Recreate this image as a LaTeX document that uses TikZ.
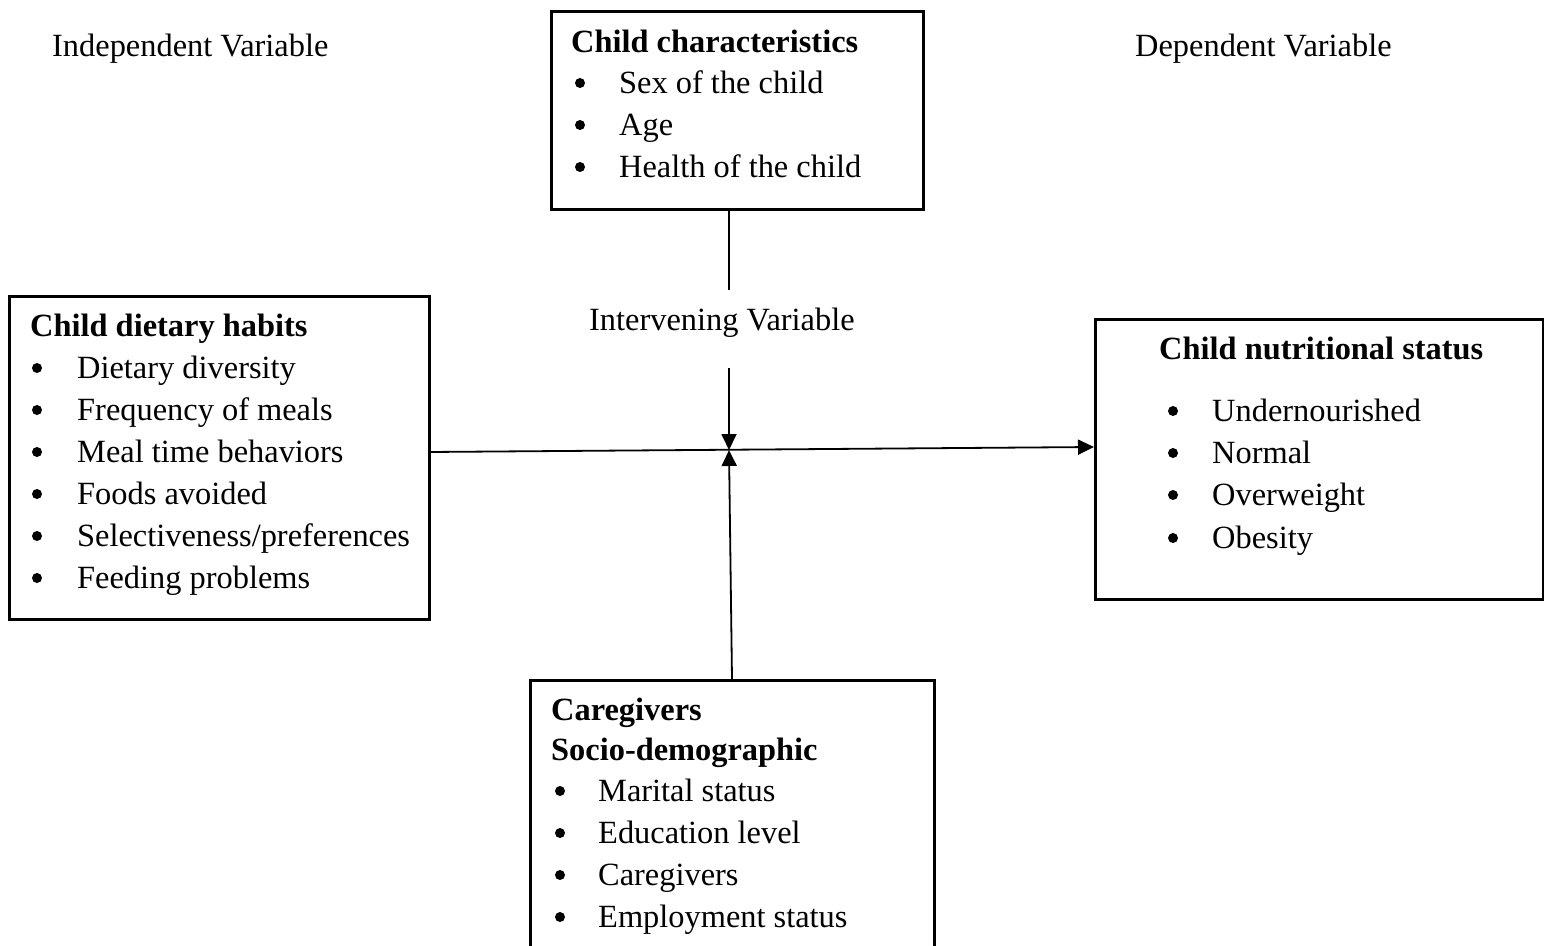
\documentclass[tikz,border=0pt]{standalone}
\usepackage{fontspec}
\setmainfont{Liberation Serif}
\usetikzlibrary{arrows.meta}
\begin{document}
\begin{tikzpicture}[x=1pt,y=-1pt,
  box/.style={draw,line width=2.6pt,anchor=north west,inner sep=0pt},
  txt/.style={anchor=base west,inner sep=0pt,font=\fontsize{32.4}{40}\selectfont},
  ttl/.style={txt,font=\fontsize{32.4}{40}\selectfont\bfseries},
  bul/.style={circle,fill,inner sep=0pt,minimum size=10pt},
  conn/.style={line width=1.8pt},
  tip/.style={-{Triangle[length=16pt,width=15pt]}}]
\useasboundingbox (0,0) rectangle (1544,945);
\clip (0,0) rectangle (1544,945);
% labels
\node[txt] (iv) at (52,56) {Independent Variable};
\node[txt] (dv) at (1135,56) {Dependent Variable};
\node[txt] (inv) at (589,330) {Intervening Variable};
% top box
\node[box,minimum width=372pt,minimum height=198pt] (top) at (550,10) {};
\node[ttl] (t0) at (571,52) {Child characteristics};
\foreach \y/\t [count=\i] in {93/{Sex of the child},135/{Age},177/{Health of the child}}{
  \node[bul] (tb\i) at (580,\y-10) {};
  \node[txt] (tt\i) at (619,\y) {\t};
}
% left box
\node[box,minimum width=420pt,minimum height=323pt] (left) at (8,295) {};
\node[ttl] (l0) at (30,336) {Child dietary habits};
\foreach \y/\t [count=\i] in {378/{Dietary diversity},420/{Frequency of meals},462/{Meal time behaviors},504/{Foods avoided},546/{Selectiveness/preferences},588/{Feeding problems}}{
  \node[bul] (lb\i) at (37,\y-10) {};
  \node[txt] (lt\i) at (77,\y) {\t};
}
% right box
\node[box,minimum width=448pt,minimum height=280pt] (right) at (1094,318) {};
\node[ttl] (r0) at (1159,359) {Child nutritional status};
\foreach \y/\t [count=\i] in {421/{Undernourished},463/{Normal},505/{Overweight},548/{Obesity}}{
  \node[bul] (rb\i) at (1173,\y-10) {};
  \node[txt] (rt\i) at (1212,\y) {\t};
}
% bottom box
\node[box,minimum width=404pt,minimum height=300pt] (bot) at (529,679) {};
\node[ttl] (b0) at (551,720) {Caregivers};
\node[ttl] (b00) at (551,760) {Socio-demographic};
\foreach \y/\t [count=\i] in {801/{Marital status},843/{Education level},885/{Caregivers},927/{Employment status}}{
  \node[bul] (bb\i) at (560,\y-10) {};
  \node[txt] (bt\i) at (598,\y) {\t};
}
% connectors
\coordinate (topfoot) at (729,208);
\coordinate (topend) at (729,290);
\coordinate (downstart) at (729,368);
\coordinate (mid) at (729,450);
\coordinate (leftout) at (428,452);
\coordinate (rightin) at (1094,447);
\coordinate (botfoot) at (732,679);
\draw[conn] (topfoot) -- (topend);
\draw[conn,tip] (downstart) -- (mid);
\draw[conn,tip] (botfoot) -- (mid);
\draw[conn,tip] (leftout) -- (rightin);
\end{tikzpicture}
\end{document}
